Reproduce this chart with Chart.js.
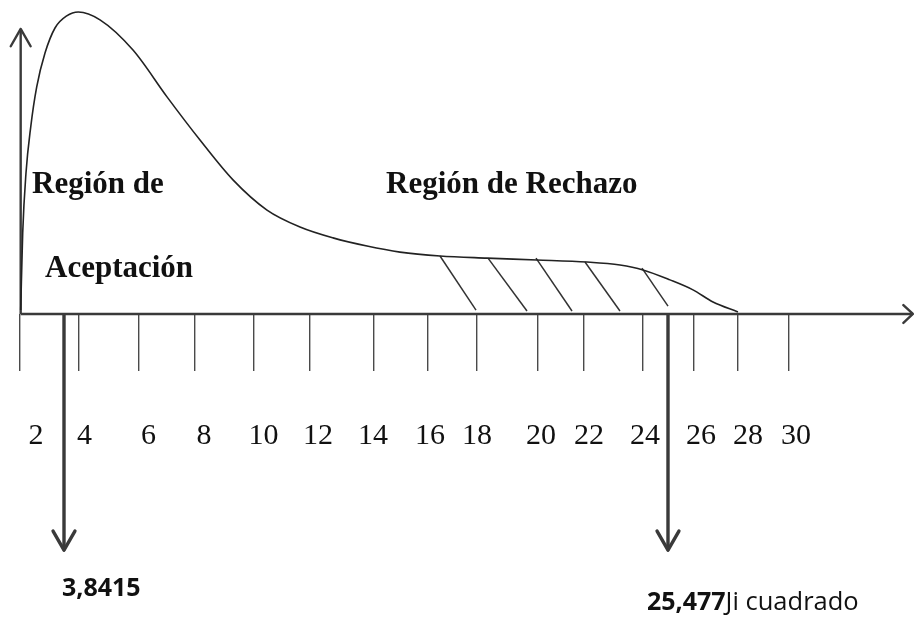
<!DOCTYPE html>
<html lang="es">
<head>
<meta charset="UTF-8">
<title>Ji cuadrado</title>
<script src="https://cdn.jsdelivr.net/npm/chart.js@4.4.0/dist/chart.umd.min.js"></script>
<style>
    html, body { margin: 0; padding: 0; background: #fff; }
    #wrap { width: 914px; height: 617px; }
</style>
</head>
<body>
<div id="wrap"><canvas id="chart"></canvas></div>
<script>
// x in chi-square units (as sketched), y as percent of the peak height
const curveX = [2.290, 2.362, 2.480, 2.649, 2.864, 3.161, 3.519, 3.938, 4.354, 5.131, 6.313, 7.531, 8.713, 9.895,
                11.113, 12.295, 13.477, 14.695, 15.877, 17.310, 18.993, 20.784, 22.575, 23.757, 24.581, 25.549,
                26.372, 27.089, 27.984];
const curveY = [1.3, 26.8, 46.7, 61.9, 75.2, 86.4, 94.7, 98.7, 100, 97.4, 87.4, 71.9, 57.6, 44.4,
                34.4, 28.8, 25.2, 22.5, 20.5, 19.2, 18.5, 17.9, 17.2, 16.2, 14.6, 11.3,
                8.0, 4.0, 0.7];

// hand drawn ticks and their labels (labels sit a little off the ticks)
const tickPos = [2.265, 4.379, 6.528, 8.534, 10.647, 12.653, 14.946, 16.880, 18.635, 20.820, 22.468, 24.581, 26.408, 27.984, 29.811];
const labelPos = [2.839, 4.576, 6.872, 8.856, 10.988, 12.940, 14.910, 16.952, 18.635, 20.928, 22.647, 24.653, 26.659, 28.343, 30.062];
const tickLabels = ['2', '4', '6', '8', '10', '12', '14', '16', '18', '20', '22', '24', '26', '28', '30'];

// critical values
const critical = [3.8415, 25.477];
const criticalText = ['3,8415', '25,477'];

// hatching of the rejection region
const hatchX1 = [17.310, 19.029, 20.749, 22.504, 24.545];
const hatchY1 = [19.2, 18.5, 18.5, 17.2, 15.2];
const hatchX2 = [18.600, 20.426, 22.038, 23.757, 25.477];
const hatchY2 = [1.3, 1.0, 1.0, 1.0, 2.6];

// axis extents
const axisStart = 2.290;
const axisEnd = 34.25;
const axisTop = 94.4;
const arrowDepth = -78.2;
const labelRow = -31.8;   // line the tick numbers hang from

// view window
const xMin = 1.549, xMax = 34.289;
const yMin = -100.33, yMax = 103.97;

const ink = '#3a3a3a';
const seg = (x1, y1, x2, y2) => [{x: x1, y: y1}, {x: x2, y: y2}];

const datasets = [];
datasets.push({
    data: curveX.map((x, i) => ({x: x, y: curveY[i]})),
    borderColor: '#222', borderWidth: 1.6, cubicInterpolationMode: 'monotone'
});
datasets.push({ data: seg(axisStart, 0, axisEnd, 0), borderColor: ink, borderWidth: 2.4,
    head: {len: 13, spread: 0.75} });
datasets.push({ data: seg(axisStart, 0, axisStart, axisTop), borderColor: ink, borderWidth: 2.4,
    head: {len: 20, spread: 0.52} });
critical.forEach(c => {
    datasets.push({ data: seg(c, 0, c, arrowDepth), borderColor: ink, borderWidth: 3.4,
        head: {len: 22, spread: 0.52} });
});
hatchX1.forEach((x, i) => {
    datasets.push({ data: seg(x, hatchY1[i], hatchX2[i], hatchY2[i]), borderColor: '#333', borderWidth: 1.5 });
});
datasets.forEach(d => { d.showLine = true; d.pointRadius = 0; d.fill = false; });

// text notes: position in chart units, left / baseline
const notes = [
    {parts: [['Región de', 'bold 31px "Liberation Serif"']], x: 2.695, y: 40.1},
    {parts: [['Aceptación', 'bold 31px "Liberation Serif"']], x: 3.161, y: 12.3},
    {parts: [['Región de Rechazo', 'bold 31px "Liberation Serif"']], x: 15.376, y: 40.0},
    {parts: [[criticalText[0], 'bold 25px "Open Sans"']], x: 3.770, y: -93.4},
    {parts: [[criticalText[1], 'bold 25px "Open Sans"'], ['Ji cuadrado', '25.5px "Open Sans"']], x: 24.725, y: -98.0}
];

const arrowHeads = {
    id: 'arrowHeads',
    afterDatasetsDraw(chart) {
        const ctx = chart.ctx;
        chart.data.datasets.forEach((ds, i) => {
            if (!ds.head) return;
            const pts = chart.getDatasetMeta(i).data;
            const a = pts[pts.length - 2], b = pts[pts.length - 1];
            const ang = Math.atan2(b.y - a.y, b.x - a.x);
            ctx.save();
            ctx.strokeStyle = ds.borderColor;
            ctx.lineWidth = ds.borderWidth;
            ctx.lineCap = 'round';
            ctx.lineJoin = 'round';
            ctx.beginPath();
            ctx.moveTo(b.x - ds.head.len * Math.cos(ang - ds.head.spread), b.y - ds.head.len * Math.sin(ang - ds.head.spread));
            ctx.lineTo(b.x, b.y);
            ctx.lineTo(b.x - ds.head.len * Math.cos(ang + ds.head.spread), b.y - ds.head.len * Math.sin(ang + ds.head.spread));
            ctx.stroke();
            ctx.restore();
        });
    }
};

const textNotes = {
    id: 'textNotes',
    afterDraw(chart) {
        const ctx = chart.ctx;
        const sx = chart.scales.x, sy = chart.scales.y;
        ctx.save();
        ctx.fillStyle = '#111';
        ctx.textBaseline = 'alphabetic';
        ctx.textAlign = 'left';
        notes.forEach(n => {
            let px = sx.getPixelForValue(n.x);
            const py = sy.getPixelForValue(n.y);
            n.parts.forEach(([t, f]) => {
                ctx.font = f;
                ctx.fillText(t, px, py);
                px += ctx.measureText(t).width;
            });
        });
        ctx.restore();
    }
};

new Chart(document.getElementById('chart'), {
    type: 'scatter',
    data: { datasets: datasets },
    options: {
        responsive: true,
        maintainAspectRatio: false,
        animation: false,
        layout: { padding: 0 },
        plugins: { legend: { display: false }, tooltip: { enabled: false } },
        scales: {
            x: {
                type: 'linear', min: xMin, max: xMax, position: {y: 0},
                afterBuildTicks: s => { s.ticks = tickPos.map(v => ({value: v})); },
                ticks: { display: false },
                grid: { drawOnChartArea: false, drawTicks: true, tickLength: 57, color: '#4a4a4a', lineWidth: 1.4 },
                border: { display: false }
            },
            x2: {
                type: 'linear', axis: 'x', min: xMin, max: xMax, position: {y: labelRow},
                afterBuildTicks: s => { s.ticks = labelPos.map(v => ({value: v})); },
                ticks: {
                    autoSkip: false, maxRotation: 0, minRotation: 0, padding: 0, color: '#111',
                    font: { family: '"Liberation Serif"', size: 30 },
                    callback: (v, i) => tickLabels[i]
                },
                grid: { display: false },
                border: { display: false }
            },
            y: { type: 'linear', min: yMin, max: yMax, display: false }
        }
    },
    plugins: [arrowHeads, textNotes]
});
</script>
</body>
</html>
